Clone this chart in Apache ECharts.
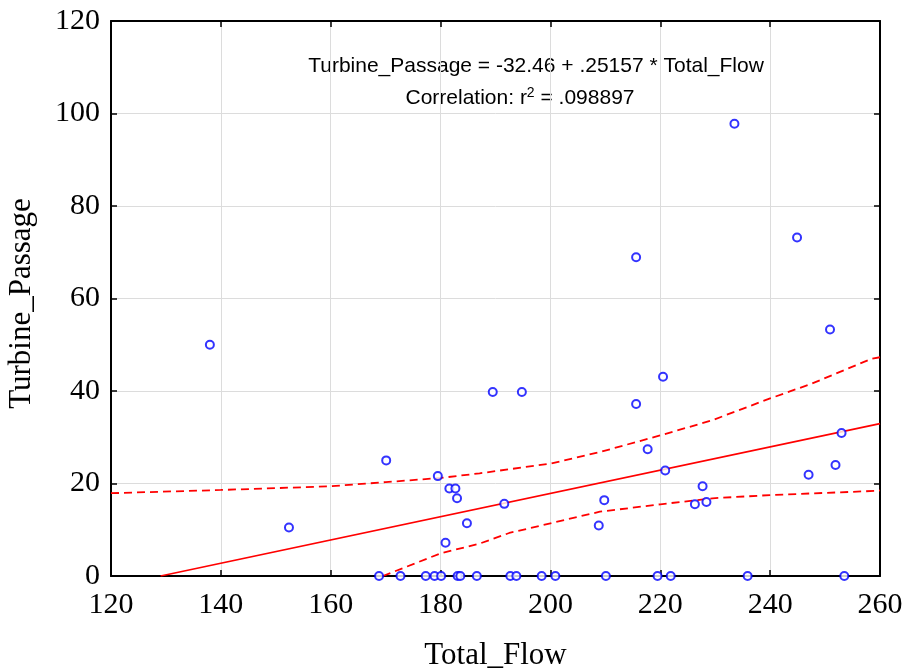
<!DOCTYPE html>
<html>
<head>
<meta charset="utf-8">
<script src="https://cdn.jsdelivr.net/npm/echarts@6/dist/echarts.min.js"></script>
<style>
  html, body { margin: 0; padding: 0; background: #fff; }
  #chart { width: 907px; height: 671px; }
</style>
</head>
<body>
<div id="chart"></div>
<script>
// Observations: Total_Flow vs Turbine_Passage
const totalFlow = [
  138.0, 152.4, 170.1, 179.5, 181.6, 182.7, 183.0, 184.8, 180.9, 189.5,
  194.8, 191.6, 208.8, 209.8, 215.6, 215.6, 217.7, 220.5, 220.9, 226.3,
  227.7, 228.4, 233.5, 244.9, 247.0, 250.9, 251.9, 253.0,
  168.8, 172.7, 177.3, 178.9, 180.1, 183.1, 183.6, 186.6, 192.7, 193.8,
  198.4, 200.9, 210.1, 219.5, 221.9, 235.9, 253.5
];
const turbinePassage = [
  50.0, 10.5, 25.0, 21.6, 18.9, 18.9, 16.8, 11.4, 7.2, 39.8,
  39.8, 15.6, 10.9, 16.4, 68.9, 37.2, 27.4, 43.1, 22.8, 15.5,
  19.4, 16.0, 97.8, 73.2, 21.9, 53.3, 24.0, 30.9,
  0, 0, 0, 0, 0, 0, 0, 0, 0, 0,
  0, 0, 0, 0, 0, 0, 0
];

// Fitted regression: Turbine_Passage = -32.46 + .25157 * Total_Flow
const intercept = -32.46;
const slope = 0.25157;
const fitRange = [-intercept / slope, 260];

// 95% confidence band around the fit
const upperBandX = [120, 140, 160, 170, 180, 187.1, 200, 209, 220, 229.5, 240, 247.6, 258.5, 260];
const upperBandY = [17.9, 18.6, 19.4, 20.3, 21.2, 22.2, 24.3, 26.8, 30.4, 33.7, 38.4, 41.6, 47.0, 47.3];
const lowerBandX = [169.5, 180, 187.1, 192.5, 200, 209, 220, 229.5, 240, 259.2, 260];
const lowerBandY = [0, 4.9, 7.0, 9.3, 11.4, 13.9, 15.5, 16.8, 17.5, 18.4, 18.5];

const xTicks = { min: 120, max: 260, interval: 20 };
const yTicks = { min: 0, max: 120, interval: 20 };

const points = totalFlow.map((x, i) => [x, turbinePassage[i]]);
const fitLine = fitRange.map(x => [x, intercept + slope * x]);
const upperBand = upperBandX.map((x, i) => [x, upperBandY[i]]);
const lowerBand = lowerBandX.map((x, i) => [x, lowerBandY[i]]);

const serif = '"Liberation Serif", "Times New Roman", serif';
const sans = '"Liberation Sans", Arial, sans-serif';

const chart = echarts.init(document.getElementById('chart'), null, { renderer: 'canvas' });

const frameAxis = {
  axisLine: { show: true, onZero: false, lineStyle: { color: '#000', width: 2 } },
  axisTick: { show: true, inside: true, length: 6, lineStyle: { color: '#000', width: 1.5 } },
  axisLabel: { show: false },
  splitLine: { show: false }
};

chart.setOption({
  animation: false,
  backgroundColor: '#fff',
  grid: { left: 111, right: 27, top: 21, bottom: 95, containLabel: false, outerBoundsMode: 'none' },
  xAxis: [
    {
      type: 'value', min: xTicks.min, max: xTicks.max, interval: xTicks.interval,
      name: 'Total_Flow', nameLocation: 'middle', nameGap: 64,
      nameTextStyle: { fontFamily: serif, fontSize: 31, color: '#000' },
      axisLine: { show: true, onZero: false, lineStyle: { color: '#000', width: 2 } },
      axisTick: { show: true, inside: true, length: 6, lineStyle: { color: '#000', width: 1.5 } },
      axisLabel: { fontFamily: serif, fontSize: 30, color: '#000', margin: 14 },
      splitLine: { show: true, lineStyle: { color: '#dcdcdc', width: 1 } }
    },
    Object.assign({ type: 'value', position: 'top', min: xTicks.min, max: xTicks.max, interval: xTicks.interval }, frameAxis)
  ],
  yAxis: [
    {
      type: 'value', min: yTicks.min, max: yTicks.max, interval: yTicks.interval,
      name: 'Turbine_Passage', nameLocation: 'middle', nameGap: 74,
      nameTextStyle: { fontFamily: serif, fontSize: 31, color: '#000', padding: [0, 10, 0, 0] },
      axisLine: { show: true, onZero: false, lineStyle: { color: '#000', width: 2 } },
      axisTick: { show: true, inside: true, length: 6, lineStyle: { color: '#000', width: 1.5 } },
      axisLabel: { fontFamily: serif, fontSize: 30, color: '#000', margin: 11 },
      splitLine: { show: true, lineStyle: { color: '#dcdcdc', width: 1 } }
    },
    Object.assign({ type: 'value', position: 'right', min: yTicks.min, max: yTicks.max, interval: yTicks.interval }, frameAxis)
  ],
  series: [
    {
      type: 'line', data: upperBand, showSymbol: false, smooth: false,
      lineStyle: { color: '#ff0000', width: 1.8, type: [8, 5] }, z: 2
    },
    {
      type: 'line', data: lowerBand, showSymbol: false, smooth: false,
      lineStyle: { color: '#ff0000', width: 1.8, type: [8, 5] }, z: 2
    },
    {
      type: 'line', data: fitLine, showSymbol: false,
      lineStyle: { color: '#ff0000', width: 1.6 }, z: 2
    },
    {
      type: 'scatter', data: points, symbol: 'emptyCircle', symbolSize: 8,
      itemStyle: { color: '#0000ff', borderColor: '#0000ff', borderWidth: 2.2 }, z: 3
    }
  ],
  graphic: [
    {
      type: 'text', x: 536, y: 77,
      style: {
        text: 'Turbine_Passage = -32.46 + .25157 * Total_Flow',
        font: '21px ' + sans, fill: '#000', align: 'center', verticalAlign: 'bottom'
      }
    },
    {
      type: 'text', x: 520, y: 109,
      style: {
        text: '{a|Correlation: r}{s|2}{a| = .098897}',
        align: 'center', verticalAlign: 'bottom',
        rich: {
          a: { font: '21px ' + sans, fill: '#000', verticalAlign: 'bottom' },
          s: { font: '14px ' + sans, fill: '#000', verticalAlign: 'top', padding: [0, 0, 9, 0] }
        }
      }
    }
  ]
});
</script>
</body>
</html>
